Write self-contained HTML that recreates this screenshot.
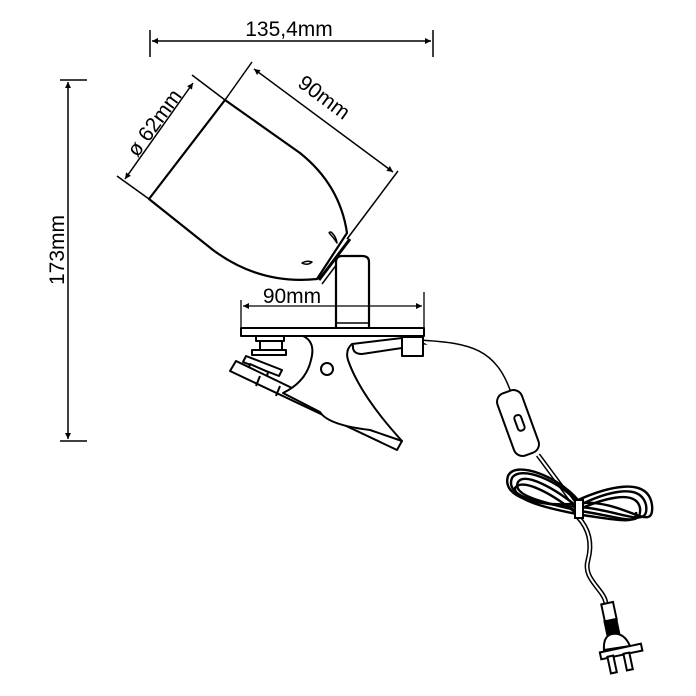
<!DOCTYPE html>
<html><head><meta charset="utf-8"><style>
html,body{margin:0;padding:0;background:#fff;}
svg{display:block;}
text{font-family:"Liberation Sans",sans-serif;fill:#000;}
</style></head><body>
<svg width="696" height="696" viewBox="0 0 696 696" xmlns="http://www.w3.org/2000/svg">
<defs>
<marker id="a" viewBox="0 0 10 10" refX="10" refY="5" markerWidth="8" markerHeight="6" orient="auto-start-reverse" markerUnits="userSpaceOnUse"><path d="M0,0 L10,5 L0,10 z" fill="#000"/></marker>
</defs>
<g stroke="#000" fill="none" stroke-width="1.5">
<line x1="150" y1="30" x2="150" y2="57"/>
<line x1="433" y1="30" x2="433" y2="57"/>
<line x1="152" y1="41" x2="431" y2="41" marker-start="url(#a)" marker-end="url(#a)"/>
<line x1="60" y1="80" x2="87" y2="80"/>
<line x1="60" y1="441" x2="87" y2="441"/>
<line x1="68" y1="82" x2="68" y2="439" marker-start="url(#a)" marker-end="url(#a)"/>
<line x1="117" y1="176" x2="149" y2="199"/>
<line x1="192" y1="75" x2="225" y2="100"/>
<line x1="125" y1="179" x2="193" y2="83" marker-start="url(#a)" marker-end="url(#a)"/>
<line x1="252" y1="62" x2="225" y2="100"/>
<line x1="398" y1="171" x2="347" y2="239"/>
<line x1="254" y1="69" x2="393" y2="172" marker-start="url(#a)" marker-end="url(#a)"/>
</g>
<g stroke="#000" fill="none" stroke-width="2.2" stroke-linejoin="round">
<path d="M149,199 L225,100 L300,153 Q340,185 347,233 L317,279 Q260,285 213,250 Z" fill="#fff"/>
<path d="M337,243 Q334,238 330,234 Q328,232 331,232 Q336,236 337,243 Z" stroke-width="1.5"/>
<path d="M302,263 Q307,260 312,262 Q307,266 302,263 Z" stroke-width="1.5"/>
<line x1="319" y1="280" x2="350" y2="239" stroke-width="3"/>
<line x1="322" y1="284" x2="343" y2="256" stroke-width="1.5"/>
<path d="M336,327 L336,262 Q336,256 342,256 L362,256 Q369,256 369,262 L369,327" fill="#fff"/>
<line x1="336" y1="323" x2="369" y2="323" stroke-width="1.5"/>
<rect x="241" y="328" width="183" height="8" fill="#fff" stroke-width="2"/>
</g>
<g stroke="#000" fill="none" stroke-width="1.3">
<line x1="241" y1="300" x2="241" y2="328"/>
<line x1="424" y1="292" x2="424" y2="328"/>
<line x1="243" y1="306" x2="422" y2="306" marker-start="url(#a)" marker-end="url(#a)"/>
</g>
<g stroke="#000" fill="#fff" stroke-width="2" stroke-linejoin="round">
<rect x="256" y="336" width="28" height="5"/>
<rect x="260" y="341" width="22" height="10"/>
<rect x="252" y="350" width="34" height="5"/>
<path d="M246,356 L282,370 L279,376 L243,362 Z"/>
<path d="M250,364 L268,372 L266,380 L248,372 Z"/>
<path d="M230,371 L236,361 L402,441 L397,450 Z"/>
<line x1="260" y1="376" x2="256" y2="386"/>
<line x1="280" y1="386" x2="276" y2="396"/>
<path d="M303,336 Q316,342 311,360 Q306,382 283,393 L320,412 Q328,425 370,430 L402,441 Q360,395 348,360 Q345,350 352,344 L402,338 L402,336 Z"/>
<path d="M353,345 Q352,354 362,354 L402,348"/>
<circle cx="327" cy="369" r="6"/>
<path d="M423,342 C470,345 495,350 510,395" stroke-width="5"/>
<path d="M423,342 C470,345 495,350 510,395" stroke="#fff" stroke-width="2"/>
<rect x="402" y="337" width="21" height="19"/>
<rect x="505" y="390" width="26" height="66" rx="9" transform="rotate(-20 518 423)"/>
<rect x="516" y="415" width="7" height="16" rx="3" transform="rotate(-20 519 423)"/>
<path d="M538,455 L575,505" stroke-width="5"/>
<path d="M538,455 L575,505" stroke="#fff" stroke-width="2"/>
</g>
<g stroke="#000" fill="none" stroke-width="2.4">
<path d="M580,505 C560,480 520,465 512,478 C505,495 535,505 580,507 C620,510 650,530 646,505 C640,480 600,495 580,505"/>
<path d="M580,509 C555,488 525,472 518,482 C512,495 540,502 580,511 C622,517 642,528 640,508 C636,488 600,500 580,509"/>
<path d="M578,500 C558,476 515,460 508,476 C501,498 540,508 582,503 C625,500 655,535 652,505 C648,475 605,488 578,500"/>
<path d="M576,513 C550,492 522,478 515,488 C514,500 545,508 582,515 C618,520 638,525 636,512"/>
<path d="M578,517 C590,530 592,545 588,560 C582,580 606,590 606,605" stroke-width="5"/>
<path d="M578,517 C590,530 592,545 588,560 C582,580 606,590 606,605" stroke="#fff" stroke-width="2"/>
<rect x="575" y="500" width="8" height="18" fill="#fff" stroke-width="2"/>
</g>
<g stroke="#000" stroke-width="2" fill="#fff">
<rect x="603" y="603" width="12" height="18" transform="rotate(-12 609 612)"/>
<rect x="606" y="620" width="12" height="16" fill="#000" transform="rotate(-12 612 628)"/>
<path d="M604,650 Q603,636 612,634 Q624,632 630,646 Z"/>
<rect x="600" y="648" width="42" height="7" transform="rotate(-12 621 651)"/>
<rect x="609" y="656" width="6" height="17" transform="rotate(-12 612 664)"/>
<rect x="625" y="653" width="6" height="17" transform="rotate(-12 628 661)"/>
</g>
<text x="289" y="36" font-size="21" text-anchor="middle">135,4mm</text>
<text transform="translate(64,250) rotate(-90)" font-size="21" text-anchor="middle">173mm</text>
<text transform="translate(160,127) rotate(-54)" font-size="21" text-anchor="middle">ø 62mm</text>
<text transform="translate(320,103) rotate(36.5)" font-size="21" text-anchor="middle">90mm</text>
<text x="292" y="303" font-size="21" text-anchor="middle">90mm</text>
</svg>
</body></html>
